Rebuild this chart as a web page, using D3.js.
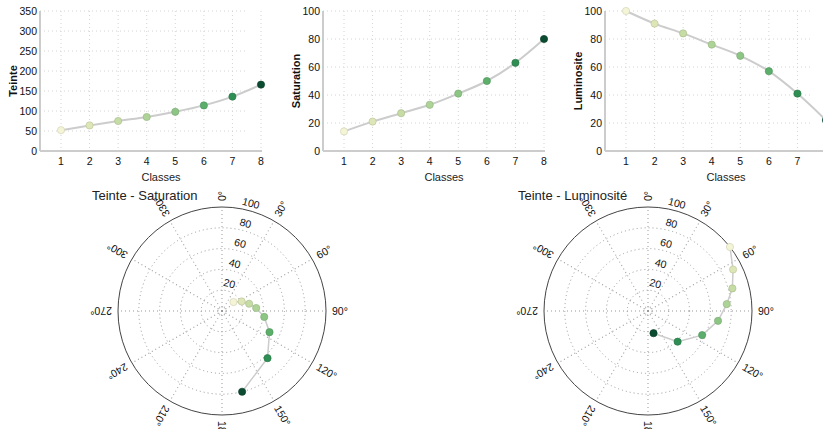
<!DOCTYPE html>
<html>
<head>
<meta charset="utf-8">
<script src="https://cdn.jsdelivr.net/npm/d3@7"></script>
<style>
    body { margin: 0; background: #fff; overflow: hidden; }
    svg { font-family: "Liberation Sans", Arial, sans-serif; }
    .tick-label { font-size: 10.5px; fill: #111; }
</style>
</head>
<body>
<svg id="chart" width="823" height="429"></svg>
<script>
// class values
var classes = [1, 2, 3, 4, 5, 6, 7, 8];
var teinte = [52, 64, 75, 85, 98, 114, 136, 166];
var saturation = [14, 21, 27, 33, 41, 50, 63, 80];
var luminosite = [100, 91, 84, 76, 68, 57, 41, 22];

var teinteTicks = [0, 50, 100, 150, 200, 250, 300, 350];
var pctTicks = [0, 20, 40, 60, 80, 100];
var angleTicks = d3.range(0, 360, 30);

// colour of each class as it shows in the picture
var palette = ["#f4f4d6", "#dde6b6", "#c6dca5", "#aed397", "#8dc684", "#5caf6b", "#2f8e53", "#0b4b31"];
var color = d3.scaleOrdinal().domain(classes).range(palette);

var rows = classes.map(function(c, i) {
    return { cls: c, h: teinte[i], s: saturation[i], l: luminosite[i] };
});

var svg = d3.select("#chart");

function lineChart(left, key, label, ymax, ticks) {
    var height = 140;
    var g = svg.append("g").attr("transform", "translate(" + left + ",11)");
    var x = d3.scaleLinear().domain([1, 8]).range([21, 221]);
    var y = d3.scaleLinear().domain([0, ymax]).range([height, 0]);

    // grid
    g.selectAll(".hgrid").data(ticks.slice(1)).join("line")
        .attr("x1", 0).attr("x2", 205)
        .attr("y1", d => y(d)).attr("y2", d => y(d))
        .attr("stroke", "#d4d4d4").attr("stroke-dasharray", "1,3");
    g.selectAll(".vgrid").data(classes).join("line")
        .attr("x1", d => x(d)).attr("x2", d => x(d))
        .attr("y1", 0).attr("y2", height)
        .attr("stroke", "#d4d4d4").attr("stroke-dasharray", "1,3");

    // axes
    g.append("line").attr("x1", 0).attr("x2", 0).attr("y1", 0).attr("y2", height)
        .attr("stroke", "#ccc").attr("stroke-width", 2);
    g.append("line").attr("x1", 0).attr("x2", 222).attr("y1", height).attr("y2", height)
        .attr("stroke", "#ccc").attr("stroke-width", 2);

    g.selectAll(".ylab").data(ticks).join("text")
        .attr("class", "tick-label")
        .attr("x", -3).attr("y", d => y(d)).attr("dy", "0.35em")
        .attr("text-anchor", "end")
        .text(d => d);
    g.selectAll(".xlab").data(classes).join("text")
        .attr("class", "tick-label")
        .attr("x", d => x(d)).attr("y", height + 10).attr("dy", "0.35em")
        .attr("text-anchor", "middle")
        .text(d => d);

    g.append("text")
        .attr("x", 121).attr("y", height + 26).attr("dy", "0.35em")
        .attr("text-anchor", "middle")
        .style("font-size", "11px").attr("fill", "#222")
        .text("Classes");
    g.append("text")
        .attr("transform", "translate(-27," + (height / 2) + ") rotate(-90)")
        .attr("text-anchor", "middle").attr("dy", "0.35em")
        .style("font-size", "11px").style("font-weight", "bold").attr("fill", "#111")
        .text(label);

    var line = d3.line().x(d => x(d.cls)).y(d => y(d[key])).curve(d3.curveMonotoneX);
    g.append("path").datum(rows).attr("d", line)
        .attr("fill", "none").attr("stroke", "#ccc").attr("stroke-width", 2);

    g.selectAll(".pt").data(rows).join("circle")
        .attr("cx", d => x(d.cls)).attr("cy", d => y(d[key])).attr("r", 3.6)
        .attr("fill", d => color(d.cls))
        .attr("stroke", d => d3.color(color(d.cls)).darker(0.4)).attr("stroke-width", 0.7);
}

lineChart(40, "h", "Teinte", 350, teinteTicks);
lineChart(323, "s", "Saturation", 100, pctTicks);
lineChart(605, "l", "Luminosite", 100, pctTicks);

function polarChart(cx, key, title) {
    var radius = 104;
    var r = d3.scaleLinear().domain([0, 100]).range([0, radius]);
    var g = svg.append("g").attr("transform", "translate(" + cx + ",311)");

    svg.append("text")
        .attr("x", cx - 130).attr("y", 195).attr("dy", "0.35em")
        .style("font-size", "13px").attr("fill", "#222")
        .text(title);

    g.append("circle").attr("r", 4)
        .attr("fill", "none").attr("stroke", "#999").attr("stroke-dasharray", "1,2");

    var gr = g.selectAll(".ring").data(pctTicks.slice(1)).join("g");
    gr.append("circle").attr("r", d => r(d))
        .attr("fill", "none")
        .attr("stroke", d => d === 100 ? "#444" : "#999")
        .attr("stroke-dasharray", d => d === 100 ? null : "1,3");
    gr.append("text")
        .attr("class", "tick-label")
        .attr("y", d => -r(d) - 4)
        .attr("transform", "rotate(15)")
        .attr("text-anchor", "middle")
        .text(d => d);

    var ga = g.selectAll(".spoke").data(angleTicks).join("g")
        .attr("transform", d => "rotate(" + (d - 90) + ")");
    ga.append("line").attr("x2", radius)
        .attr("stroke", "#999").attr("stroke-dasharray", "1,3");
    ga.append("text")
        .attr("class", "tick-label")
        .attr("x", radius + 6).attr("dy", "0.35em")
        .text(d => d + "°");

    var line = d3.lineRadial()
        .angle(d => d.h * Math.PI / 180)
        .radius(d => r(d[key]));
    g.append("path").datum(rows).attr("d", line)
        .attr("fill", "none").attr("stroke", "#ccc").attr("stroke-width", 1.5);

    g.selectAll(".pt").data(rows).join("circle")
        .attr("cx", d => r(d[key]) * Math.sin(d.h * Math.PI / 180))
        .attr("cy", d => -r(d[key]) * Math.cos(d.h * Math.PI / 180))
        .attr("r", 3.6)
        .attr("fill", d => color(d.cls))
        .attr("stroke", d => d3.color(color(d.cls)).darker(0.4)).attr("stroke-width", 0.7);
}

polarChart(222, "s", "Teinte - Saturation");
polarChart(648, "l", "Teinte - Luminosité");
</script>
</body>
</html>
